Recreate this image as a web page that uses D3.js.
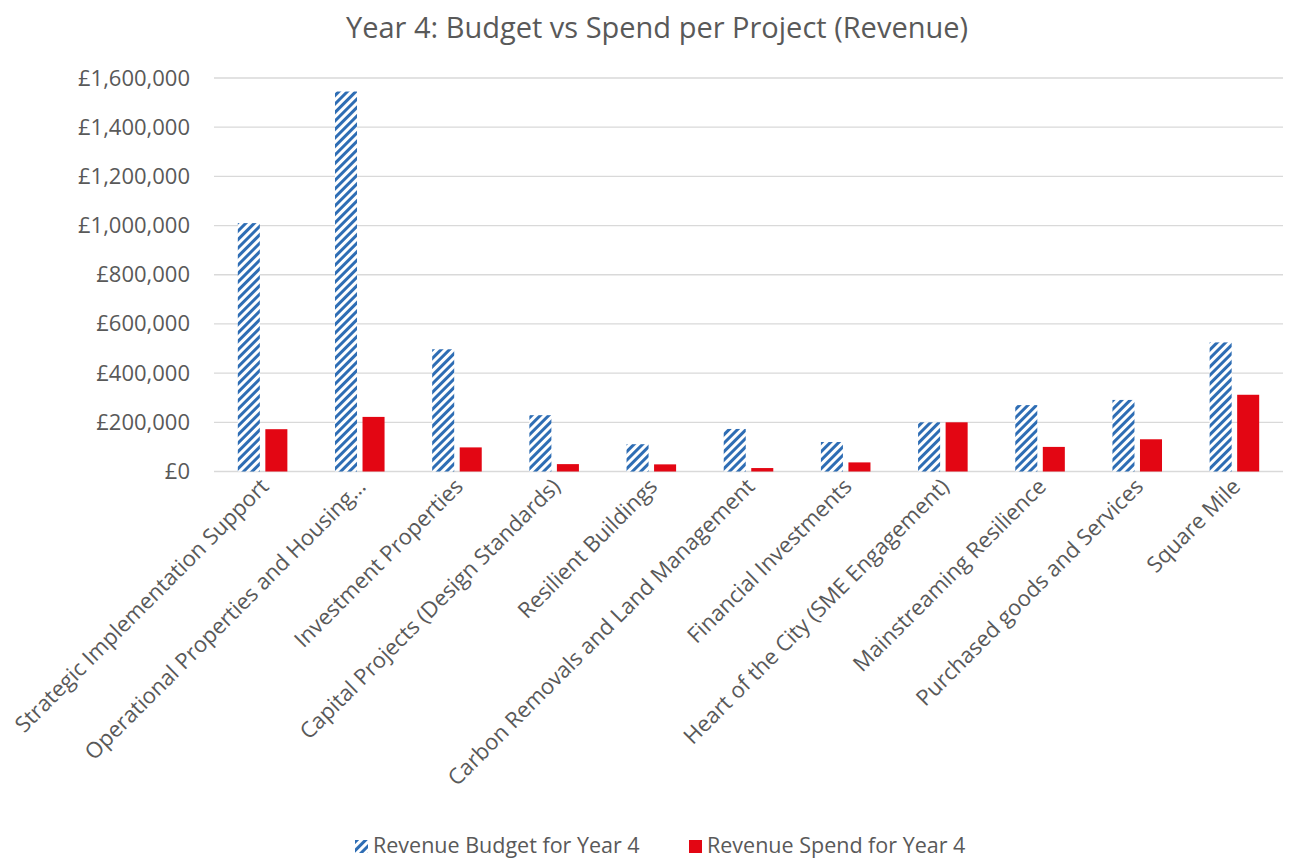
<!DOCTYPE html>
<html>
<head>
<meta charset="utf-8">
<script src="https://cdn.jsdelivr.net/npm/d3@7"></script>
<style>
  body { margin: 0; background: #fff; }
  text { font-family: "Open Sans", "Noto Sans", sans-serif; fill: #595959; }
</style>
</head>
<body>
<svg id="chart" width="1291" height="859"></svg>
<script>
var projects = [
  "Strategic Implementation Support",
  "Operational Properties and Housing…",
  "Investment Properties",
  "Capital Projects (Design Standards)",
  "Resilient Buildings",
  "Carbon Removals and Land Management",
  "Financial Investments",
  "Heart of the City (SME Engagement)",
  "Mainstreaming Resilience",
  "Purchased goods and Services",
  "Square Mile"
];
var budget = [1010000, 1545000, 497000, 229000, 111000, 173000, 120000, 200000, 270000, 291000, 525000];
var spend = [172000, 222000, 98000, 30000, 29000, 14000, 37000, 200000, 100000, 131000, 312000];
var yTicks = [0, 200000, 400000, 600000, 800000, 1000000, 1200000, 1400000, 1600000];
var seriesNames = ["Revenue Budget for Year 4", "Revenue Spend for Year 4"];

var svg = d3.select("#chart");
var plotLeft = 214, plotRight = 1283, plotTop = 78, plotBottom = 471.5;

var defs = svg.append("defs");
var pat = defs.append("pattern")
  .attr("id", "hatch")
  .attr("patternUnits", "userSpaceOnUse")
  .attr("width", 6).attr("height", 6)
  .attr("patternTransform", "rotate(45)");
pat.append("rect").attr("width", 6).attr("height", 6).attr("fill", "#fff");
pat.append("rect").attr("width", 3).attr("height", 6).attr("fill", "#2e6db4");

var x = d3.scaleBand().domain(projects).range([plotLeft, plotRight]).paddingInner(0.49).paddingOuter(0.245);
var inner = d3.scaleBand().domain([0, 1]).range([0, x.bandwidth()]).paddingInner(0.2);
var y = d3.scaleLinear().domain([0, 1600000]).range([plotBottom, plotTop]);

// gridlines
svg.append("g").selectAll("line")
  .data(yTicks)
  .enter().append("line")
  .attr("x1", plotLeft).attr("x2", plotRight)
  .attr("y1", d => y(d)).attr("y2", d => y(d))
  .attr("stroke", "#d9d9d9").attr("stroke-width", 1.3);

// y axis labels
var yAxis = d3.axisLeft(y).tickValues(yTicks).tickSize(0).tickPadding(24)
  .tickFormat(d => "£" + d3.format(",")(d));
var gy = svg.append("g").attr("transform", "translate(" + plotLeft + ",0)").call(yAxis);
gy.select(".domain").remove();
gy.selectAll("text").style("font-size", "22px").style("font-family", "'Open Sans', sans-serif").attr("fill", "#595959");

// bars
var groups = svg.append("g").selectAll("g")
  .data(projects)
  .enter().append("g")
  .attr("transform", d => "translate(" + x(d) + ",0)");

groups.append("rect")
  .attr("x", inner(0))
  .attr("width", inner.bandwidth())
  .attr("y", (d, i) => y(budget[i]))
  .attr("height", (d, i) => y(0) - y(budget[i]))
  .attr("fill", "url(#hatch)");

groups.append("rect")
  .attr("x", inner(1))
  .attr("width", inner.bandwidth())
  .attr("y", (d, i) => y(spend[i]))
  .attr("height", (d, i) => y(0) - y(spend[i]))
  .attr("fill", "#e30613");

// x labels
svg.append("g").selectAll("text")
  .data(projects)
  .enter().append("text")
  .attr("transform", d => "translate(" + (x(d) + x.bandwidth() / 2 + 2) + "," + (plotBottom + 11) + ") rotate(-45)")
  .attr("text-anchor", "end")
  .attr("dy", "0.35em")
  .style("font-size", "22px")
  .text(d => d);

// title
svg.append("text")
  .attr("x", 657).attr("y", 38)
  .attr("text-anchor", "middle")
  .style("font-size", "29px")
  .text("Year 4: Budget vs Spend per Project (Revenue)");

// legend
var legendX = [355, 689];
var leg = svg.append("g").selectAll("g")
  .data(seriesNames)
  .enter().append("g")
  .attr("transform", (d, i) => "translate(" + legendX[i] + ",840)");
leg.append("rect")
  .attr("width", 13).attr("height", 13)
  .attr("fill", (d, i) => i === 0 ? "url(#hatch)" : "#e30613");
leg.append("text")
  .attr("x", 18).attr("y", 13)
  .style("font-size", "21.5px")
  .text(d => d);
</script>
</body>
</html>
